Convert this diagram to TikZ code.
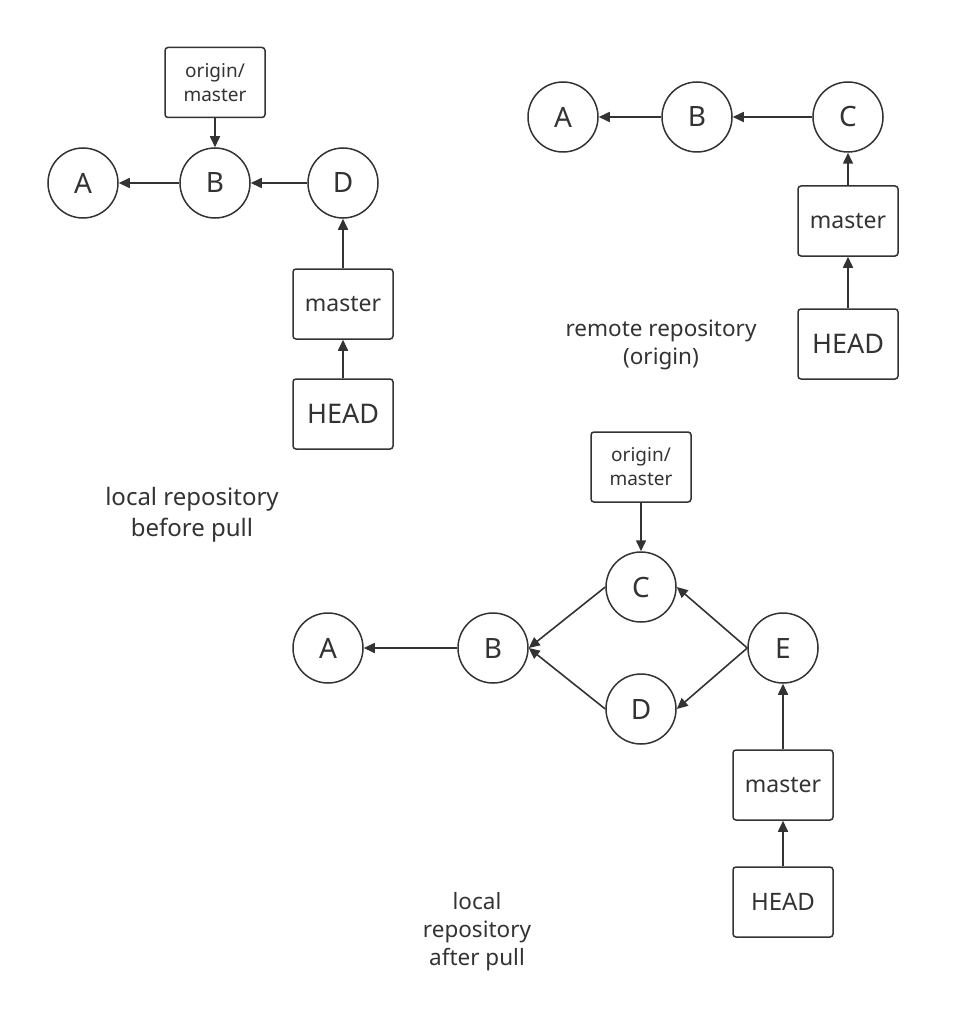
\documentclass[tikz,border=0pt]{standalone}
\usepackage{fontspec}
\setmainfont{Noto Sans}
\usetikzlibrary{arrows.meta}
\definecolor{ink}{HTML}{333333}
\begin{document}
\begin{tikzpicture}[x=1pt,y=-1pt,
  commit/.style={circle,draw=ink,line width=1.5pt,minimum size=70pt,inner sep=0pt,
    text=ink,font=\fontsize{28}{28}\selectfont},
  ref/.style={rectangle,draw=ink,line width=1.5pt,rounded corners=3pt,
    minimum width=100pt,minimum height=70pt,inner sep=0pt,text=ink,
    font=\fontsize{23}{23}\selectfont},
  headref/.style={ref,font=\fontsize{27}{27}\selectfont},
  remoteref/.style={ref,align=center,font=\fontsize{19}{24}\selectfont},
  caption/.style={text=ink,align=center,inner sep=0pt},
  link/.style={draw=ink,line width=1.6pt,-{Triangle[length=11pt,width=10pt]}}]
\useasboundingbox (0,0) rectangle (960,1027);

% local repository before pull
\node[remoteref] (lom) at (215,82.5) {origin/\\master};
\node[commit] (la) at (83,183) {A};
\node[commit] (lb) at (215,183) {B};
\node[commit] (ld) at (343,183) {D};
\node[ref] (lmaster) at (343,304) {master};
\node[headref] (lhead) at (343,414) {HEAD};
\node[caption,font=\fontsize{24}{31}\selectfont] (lcap) at (192,515) {local repository\\before pull};
\draw[link] (lb) -- (la);
\draw[link] (ld) -- (lb);
\draw[link] (lom) -- (lb);
\draw[link] (lmaster) -- (ld);
\draw[link] (lhead) -- (lmaster);

% remote repository
\node[commit] (ra) at (563,117) {A};
\node[commit] (rb) at (697,117) {B};
\node[commit] (rc) at (848,117) {C};
\node[ref] (rmaster) at (848,221) {master};
\node[headref] (rhead) at (848,344) {HEAD};
\node[caption,font=\fontsize{22.5}{28}\selectfont] (rcap) at (661,345) {remote repository\\(origin)};
\draw[link] (rb) -- (ra);
\draw[link] (rc) -- (rb);
\draw[link] (rmaster) -- (rc);
\draw[link] (rhead) -- (rmaster);

% local repository after pull
\node[remoteref] (pom) at (641,467) {origin/\\master};
\node[commit] (pa) at (328,648) {A};
\node[commit] (pb) at (493,648) {B};
\node[commit] (pc) at (641,587) {C};
\node[commit] (pd) at (641,709) {D};
\node[commit] (pe) at (783,648) {E};
\node[ref] (pmaster) at (783,785) {master};
\node[ref,font=\fontsize{24}{24}\selectfont] (phead) at (783,902) {HEAD};
\node[caption,font=\fontsize{22.5}{28}\selectfont] (pcap) at (477,932) {local\\repository\\after pull};
\draw[link] (pb) -- (pa);
\draw[link] (pc.west) -- (pb.east);
\draw[link] (pd.west) -- (pb.east);
\draw[link] (pe.west) -- (pc.east);
\draw[link] (pe.west) -- (pd.east);
\draw[link] (pom) -- (pc);
\draw[link] (pmaster) -- (pe);
\draw[link] (phead) -- (pmaster);
\end{tikzpicture}
\end{document}
